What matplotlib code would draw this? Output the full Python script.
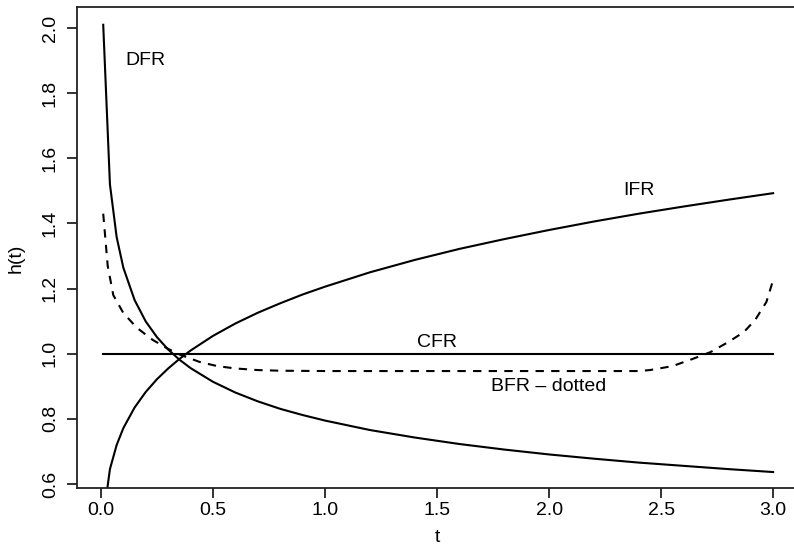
import matplotlib
matplotlib.use("Agg")
import matplotlib.pyplot as plt

plt.rcParams['font.family'] = ['Liberation Sans', 'DejaVu Sans']

# values
t_curve = [0.01, 0.04, 0.07, 0.10, 0.15, 0.20, 0.25, 0.30, 0.35, 0.40, 0.50, 0.60, 0.70,
           0.80, 0.90, 1.00, 1.20, 1.40, 1.60, 1.80, 2.00, 2.20, 2.40, 2.60, 2.80, 3.00]
dfr = [2.01, 1.52, 1.358, 1.264, 1.165, 1.099, 1.051, 1.013, 0.982, 0.956, 0.914, 0.881, 0.854,
       0.831, 0.812, 0.795, 0.766, 0.743, 0.723, 0.706, 0.691, 0.678, 0.666, 0.656, 0.646, 0.637]
ifr = [0.494, 0.646, 0.720, 0.772, 0.835, 0.883, 0.922, 0.955, 0.984, 1.010, 1.055, 1.093, 1.126,
       1.155, 1.182, 1.206, 1.250, 1.288, 1.322, 1.352, 1.380, 1.406, 1.430, 1.452, 1.473, 1.493]

t_cfr = [0.01, 3.0]
cfr = [1.0, 1.0]

t_bfr = [0.01, 0.03, 0.055, 0.10, 0.16, 0.23, 0.30, 0.35, 0.44, 0.52, 0.60, 0.70, 0.80, 1.00,
         1.50, 2.00, 2.40, 2.45, 2.55, 2.64, 2.72, 2.80, 2.87, 2.92, 2.97, 3.00]
bfr = [1.43, 1.27, 1.18, 1.125, 1.08, 1.043, 1.015, 0.998, 0.975, 0.962, 0.955, 0.950, 0.948, 0.947,
       0.947, 0.947, 0.947, 0.950, 0.962, 0.984, 1.005, 1.036, 1.067, 1.104, 1.159, 1.226]

xticks = [0.0, 0.5, 1.0, 1.5, 2.0, 2.5, 3.0]
yticks = [0.6, 0.8, 1.0, 1.2, 1.4, 1.6, 1.8, 2.0]

fig = plt.figure(figsize=(7.94, 5.5), dpi=100)
ax = fig.add_axes([77 / 794, 62 / 550, 723 / 794, 481 / 550])

ax.plot(t_curve, dfr, color='black', lw=1.5)
ax.plot(t_curve, ifr, color='black', lw=1.5)
ax.plot(t_cfr, cfr, color='black', lw=1.5)
ax.plot(t_bfr, bfr, color='black', lw=1.5, dashes=(4, 3.5))

ax.text(0.2, 1.9, 'DFR', fontsize=14, ha='center', va='center')
ax.text(2.4, 1.5, 'IFR', fontsize=14, ha='center', va='center')
ax.text(1.5, 1.035, 'CFR', fontsize=14, ha='center', va='center')
ax.text(2.0, 0.9, 'BFR \u2013 dotted', fontsize=14, ha='center', va='center')

ax.set_xlim(-0.107, 3.12)
ax.set_ylim(0.588, 2.0645)
ax.set_xticks(xticks)
ax.set_xticklabels(['%.1f' % v for v in xticks])
ax.set_yticks(yticks)
ax.set_yticklabels(['%.1f' % v for v in yticks])

ax.tick_params(axis='both', direction='out', length=7, width=1.3, labelsize=14, color='#222222')
ax.tick_params(axis='x', pad=3)
ax.tick_params(axis='y', pad=6)
for lab in ax.get_yticklabels():
    lab.set_rotation(90)
    lab.set_va('center')
for s in ax.spines.values():
    s.set_linewidth(1.3)
    s.set_color('#222222')

ax.set_xlabel('t', fontsize=14)
ax.set_ylabel('h(t)', fontsize=14)
ax.xaxis.set_label_coords(0.498, -0.086)
ax.yaxis.set_label_coords(-0.073, 0.478)

fig.savefig('out.png', dpi=100)
